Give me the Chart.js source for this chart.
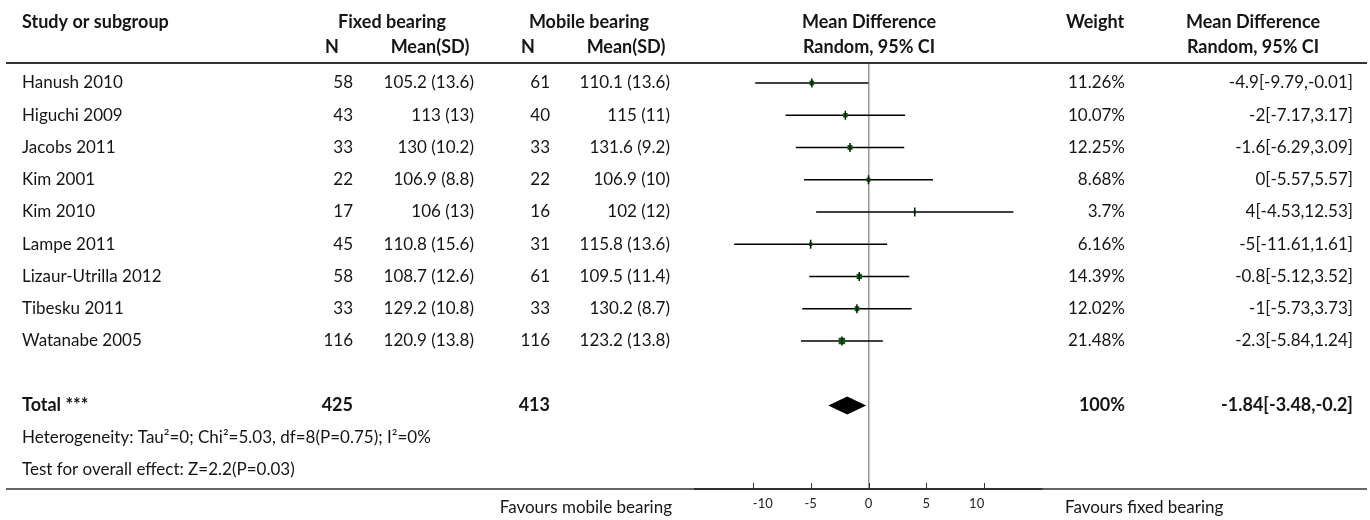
<!DOCTYPE html>
<html><head><meta charset="utf-8">
<script src="https://cdn.jsdelivr.net/npm/chart.js@4.4.1/dist/chart.umd.min.js"></script>
<style>html,body{margin:0;padding:0;background:#fff;} canvas{display:block;}</style>
</head><body>
<canvas id="c" width="1370" height="520"></canvas>
<script>
// ---- data ----
const studies = ["Hanush 2010","Higuchi 2009","Jacobs 2011","Kim 2001","Kim 2010","Lampe 2011","Lizaur-Utrilla 2012","Tibesku 2011","Watanabe 2005"];
const fixedN = [58,43,33,22,17,45,58,33,116];
const fixedMeanSD = ["105.2 (13.6)","113 (13)","130 (10.2)","106.9 (8.8)","106 (13)","110.8 (15.6)","108.7 (12.6)","129.2 (10.8)","120.9 (13.8)"];
const mobileN = [61,40,33,22,16,31,61,33,116];
const mobileMeanSD = ["110.1 (13.6)","115 (11)","131.6 (9.2)","106.9 (10)","102 (12)","115.8 (13.6)","109.5 (11.4)","130.2 (8.7)","123.2 (13.8)"];
const meanDiff = [-4.9,-2,-1.6,0,4,-5,-0.8,-1,-2.3];
const ciLow = [-9.79,-7.17,-6.29,-5.57,-4.53,-11.61,-5.12,-5.73,-5.84];
const ciHigh = [-0.01,3.17,3.09,5.57,12.53,1.61,3.52,3.73,1.24];
const weights = [11.26,10.07,12.25,8.68,3.7,6.16,14.39,12.02,21.48];
const totalFixedN = 425;
const totalMobileN = 413;
const totalMD = -1.84;
const totalLow = -3.48;
const totalHigh = -0.2;
const totalWeight = 100;
const heterogeneityText = "Heterogeneity: Tau\u00b2=0; Chi\u00b2=5.03, df=8(P=0.75); I\u00b2=0%";
const overallText = "Test for overall effect: Z=2.2(P=0.03)";
const xTicks = [-10,-5,0,5,10];
const leftLabel = "Favours mobile bearing";
const rightLabel = "Favours fixed bearing";

// ---- layout / style ----
const FONT = "Lato, 'Noto Sans', sans-serif";
const FS = 17, FSB = 18;
const ROW_TOTAL = studies.length + 1, ROW_HET = ROW_TOTAL + 1, ROW_TEST = ROW_TOTAL + 2;

const ciDatasets = studies.map((s, i) => ({
  type: 'line',
  data: [{x: ciLow[i], y: i}, {x: ciHigh[i], y: i}],
  borderColor: '#000', borderWidth: 1.5, pointRadius: 0, order: 3
}));

const tablePlugin = {
  id: 'table',
  afterDraw(chart) {
    const ctx = chart.ctx;
    const xs = chart.scales.x, ys = chart.scales.y;
    const ca = chart.chartArea;
    const yRow = r => ys.getPixelForValue(r);
    ctx.save();
    // summary diamond
    const dl = xs.getPixelForValue(totalLow), dr = xs.getPixelForValue(totalHigh), dc = xs.getPixelForValue(totalMD), dy = yRow(ROW_TOTAL);
    ctx.fillStyle = '#000';
    ctx.beginPath();
    ctx.moveTo(dl, dy); ctx.lineTo(dc, dy - 9); ctx.lineTo(dr, dy); ctx.lineTo(dc, dy + 9); ctx.closePath(); ctx.fill();
    // rules
    ctx.strokeStyle = '#333';
    ctx.lineWidth = 2;
    ctx.beginPath(); ctx.moveTo(6, ca.top); ctx.lineTo(1367, ca.top); ctx.stroke();
    ctx.lineWidth = 1.5;
    ctx.beginPath(); ctx.moveTo(6, ca.bottom); ctx.lineTo(1367, ca.bottom); ctx.stroke();
    ctx.lineWidth = 1;
    xs.ticks.forEach(t => {
      const px = Math.round(xs.getPixelForValue(t.value)) + 0.5;
      ctx.beginPath(); ctx.moveTo(px, ca.bottom); ctx.lineTo(px, ca.bottom - 6); ctx.stroke();
    });
    // table text
    ctx.fillStyle = '#151515';
    ctx.textBaseline = 'middle';
    const txt = (s, x, y, align, bold) => {
      ctx.font = (bold ? 'bold ' + FSB : FS) + 'px ' + FONT;
      ctx.textAlign = align;
      ctx.fillText(s, x, y);
    };
    const h1 = 22, h2 = 47;
    txt("Study or subgroup", 22, h1, 'left', true);
    txt("Fixed bearing", 392, h1, 'center', true);
    txt("Mobile bearing", 589, h1, 'center', true);
    txt("Mean Difference", 869, h1, 'center', true);
    txt("Weight", 1095, h1, 'center', true);
    txt("Mean Difference", 1253, h1, 'center', true);
    txt("N", 332, h2, 'center', true);
    txt("Mean(SD)", 430, h2, 'center', true);
    txt("N", 528, h2, 'center', true);
    txt("Mean(SD)", 626, h2, 'center', true);
    txt("Random, 95% CI", 869, h2, 'center', true);
    txt("Random, 95% CI", 1253, h2, 'center', true);
    studies.forEach((s, i) => {
      const y = yRow(i);
      txt(s, 22, y, 'left');
      txt(String(fixedN[i]), 353, y, 'right');
      txt(fixedMeanSD[i], 474, y, 'right');
      txt(String(mobileN[i]), 550, y, 'right');
      txt(mobileMeanSD[i], 670, y, 'right');
      txt(weights[i] + '%', 1125, y, 'right');
      txt(meanDiff[i] + '[' + ciLow[i] + ',' + ciHigh[i] + ']', 1353, y, 'right');
    });
    const yt = yRow(ROW_TOTAL);
    txt("Total ***", 22, yt, 'left', true);
    txt(String(totalFixedN), 353, yt, 'right', true);
    txt(String(totalMobileN), 550, yt, 'right', true);
    txt(totalWeight + '%', 1125, yt, 'right', true);
    txt(totalMD + '[' + totalLow + ',' + totalHigh + ']', 1353, yt, 'right', true);
    txt(heterogeneityText, 22, yRow(ROW_HET), 'left');
    txt(overallText, 22, yRow(ROW_TEST), 'left');
    txt(leftLabel, 672, 508, 'right');
    txt(rightLabel, 1065, 508, 'left');
    ctx.restore();
  }
};

new Chart(document.getElementById('c'), {
  type: 'scatter',
  data: {
    datasets: [
      {
        type: 'scatter',
        data: meanDiff.map((m, i) => ({x: m, y: i})),
        pointStyle: 'line', rotation: 90, pointRadius: 4.5,
        borderColor: '#111', borderWidth: 1.5, backgroundColor: '#111', order: 1
      },
      {
        type: 'scatter',
        data: meanDiff.map((m, i) => ({x: m, y: i})),
        pointStyle: 'rect',
        pointRadius: c => 1.4 * Math.sqrt(weights[c.dataIndex]) / Math.SQRT2,
        backgroundColor: '#006400', borderWidth: 0, order: 2
      },
      ...ciDatasets
    ]
  },
  options: {
    responsive: false,
    animation: false,
    events: [],
    devicePixelRatio: 1,
    layout: {padding: {left: 695, right: 328, top: 63, bottom: 9}},
    plugins: {legend: {display: false}, tooltip: {enabled: false}},
    scales: {
      x: {
        type: 'linear', min: -15, max: 15,
        afterBuildTicks: s => { s.ticks = xTicks.map(v => ({value: v})); },
        afterFit: s => { s.height = 22; },
        grid: {
          drawTicks: false,
          color: c => (c.tick && c.tick.value === 0) ? 'rgb(150,150,150)' : 'rgba(0,0,0,0)',
          lineWidth: 1.5
        },
        border: {display: true, color: '#333', width: 2},
        ticks: {padding: 7, align: 'inner', color: '#222', font: {family: FONT, size: 13}, callback: v => String(v), maxRotation: 0}
      },
      y: {type: 'linear', display: false, reverse: true, min: -0.62, max: 12.59}
    }
  },
  plugins: [tablePlugin]
});
</script>
</body></html>
